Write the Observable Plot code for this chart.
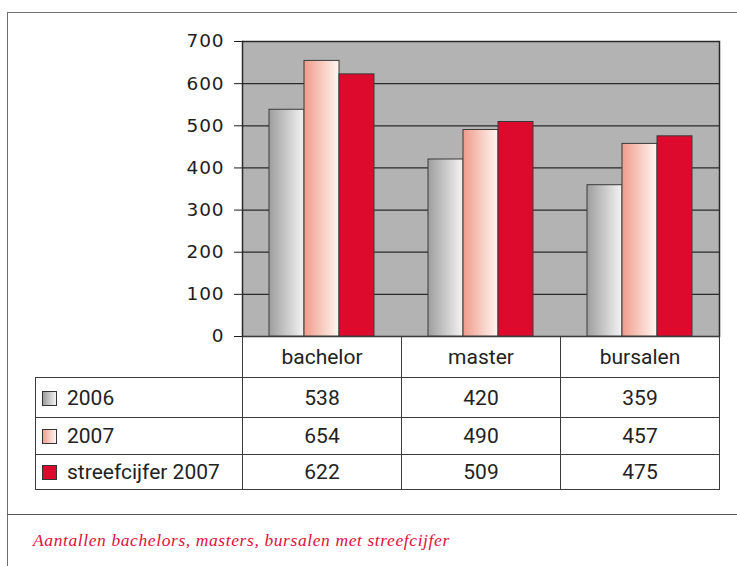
<!DOCTYPE html>
<html>
<head>
<meta charset="utf-8">
<script src="https://cdn.jsdelivr.net/npm/d3@7"></script>
<script src="https://cdn.jsdelivr.net/npm/@observablehq/plot@0.6"></script>
<style>
  html, body { margin: 0; padding: 0; background: #fff; }
  #wrap { position: relative; width: 737px; height: 566px; overflow: hidden; background: #fff; }
  #frame { position: absolute; left: 7px; top: 12px; width: 740px; height: 560px;
           border-top: 1.5px solid #6e6e6e; border-left: 1.5px solid #6e6e6e; }
  #divider { position: absolute; left: 7px; top: 514px; width: 740px; border-top: 1.5px solid #555; }
  #chart { position: absolute; left: 0; top: 0; }
  #tbl { position: absolute; left: 35px; top: 336px; border-collapse: collapse;
         font-family: Roboto, "Noto Sans", sans-serif; font-size: 21px; color: #222; table-layout: fixed; }
  #tbl td { border: 1.5px solid #3c3c3c; text-align: center; padding: 0; vertical-align: middle; }
  #tbl td.lab { text-align: left; padding-left: 6px; white-space: nowrap; }
  #tbl td.blank { border-top: none; border-left: none; }
  .sw { display: inline-block; width: 13px; height: 13px; border: 1px solid #333; vertical-align: -1px; margin-right: 10px; }
  #caption { position: absolute; left: 33px; top: 532px; font-family: "Liberation Serif", serif; font-style: italic;
             font-size: 17.5px; line-height: 17px; letter-spacing: 0.6px; color: #e0103c; white-space: nowrap; }
</style>
</head>
<body>
<div id="wrap">
  <div id="frame"></div>
  <div id="divider"></div>
  <div id="chart"></div>
  <table id="tbl"></table>
  <div id="caption"></div>
</div>
<script>
// ---- data ----
const categories = ["bachelor", "master", "bursalen"];
const seriesNames = ["2006", "2007", "streefcijfer 2007"];
const values2006 = [538, 420, 359];
const values2007 = [654, 490, 457];
const valuesTarget = [622, 509, 475];
const yTicks = [0, 100, 200, 300, 400, 500, 600, 700];
const captionText = "Aantallen bachelors, masters, bursalen met streefcijfer";

// ---- styles ----
const seriesValues = [values2006, values2007, valuesTarget];
const gradIds = ["g2006", "g2007"];
const barFills = ["url(#g2006)", "url(#g2007)", "#dd0a2d"];
const swatchCss = [
  "linear-gradient(to right, #9c9c9c, #f2f2f2)",
  "linear-gradient(to right, #f0a090, #fff6f2)",
  "#dd0a2d"
];

const rows = categories.flatMap((c, i) =>
  seriesNames.map((s, j) => ({category: c, series: s, value: seriesValues[j][i]})));

const chart = Plot.plot({
  width: 737,
  height: 337,
  marginLeft: 242,
  marginRight: 18,
  marginTop: 41,
  marginBottom: 1,
  style: {fontFamily: "DejaVu Sans", fontSize: "18.5px", color: "#1e1e1e", background: "transparent", overflow: "visible", letterSpacing: "0.9px"},
  fx: {domain: categories, padding: 0, axis: null, label: null},
  x: {domain: seriesNames, paddingInner: 0, paddingOuter: 0.71, axis: null},
  y: {domain: [0, 700], ticks: yTicks, tickSize: 8, tickPadding: 10, label: null},
  color: {domain: seriesNames, range: barFills},
  marks: [
    Plot.frame({fill: "#b3b3b3", stroke: "none", shapeRendering: "crispEdges"}),
    Plot.ruleY(yTicks, {stroke: "#2a2a2a", strokeWidth: 1.3}),
    Plot.barY(rows, {fx: "category", x: "series", y: "value", fill: "series", stroke: "#3a3a3a", strokeWidth: 1}),
    Plot.frame({anchor: "left", facetAnchor: "left", stroke: "#2a2a2a", strokeWidth: 1.5}),
    Plot.frame({anchor: "right", facetAnchor: "right", stroke: "#2a2a2a", strokeWidth: 1.5})
  ]
});

// gradients for the bar fills
const svg = d3.select(chart.tagName.toLowerCase() === "svg" ? chart : chart.querySelector("svg"));
const defs = svg.insert("defs", ":first-child");
const gradStops = [
  [["0%", "#9e9e9e"], ["100%", "#f4f4f4"]],
  [["0%", "#ef9c8a"], ["100%", "#fff7f3"]]
];
gradIds.forEach((id, k) => {
  const g = defs.append("linearGradient").attr("id", id).attr("x1", 0).attr("x2", 1).attr("y1", 0).attr("y2", 0);
  gradStops[k].forEach(([o, c]) => g.append("stop").attr("offset", o).attr("stop-color", c));
});
document.getElementById("chart").appendChild(chart);

// data table below the chart
const colW = [207, 159, 159, 159];
const rowH = [41, 40, 37, 35];
const tbl = d3.select("#tbl");
const cg = tbl.append("colgroup");
colW.forEach(w => cg.append("col").style("width", w + "px"));
const head = tbl.append("tr").style("height", rowH[0] + "px");
head.append("td").attr("class", "blank");
categories.forEach(c => head.append("td").text(c));
seriesNames.forEach((s, j) => {
  const tr = tbl.append("tr").style("height", rowH[j + 1] + "px");
  const lab = tr.append("td").attr("class", "lab");
  lab.append("span").attr("class", "sw").style("background", swatchCss[j]);
  lab.append("span").text(s);
  seriesValues[j].forEach(v => tr.append("td").text(v));
});

document.getElementById("caption").textContent = captionText;
</script>
</body>
</html>
